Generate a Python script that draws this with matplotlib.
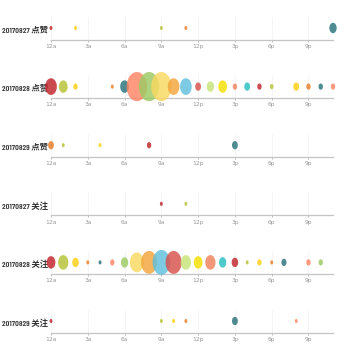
import matplotlib.pyplot as plt
import numpy as np
from matplotlib.path import Path

# one row per (day, action), points listed in source order
labels = ['20170827 点赞', '20170828 点赞', '20170829 点赞',
          '20170827 关注', '20170828 关注', '20170829 关注']

hours_0827_like = [0, 9, 2, 11, 23]
values_0827_like = [2, 2, 2, 2, 5]

hours_0828_like = [0, 1, 2, 5, 6, 7, 8, 9, 10, 11, 12, 13, 14, 15, 16, 17, 18, 20, 21, 22, 23]
values_0828_like = [8, 6, 3, 2, 6, 14, 14, 14, 8, 8, 4, 5, 6, 3, 4, 3, 2.5, 4, 3, 3, 3]

hours_0829_like = [8, 1, 4, 0, 15]
values_0829_like = [3, 2, 2, 4, 4]

hours_0827_follow = [9, 11]
values_0827_follow = [2, 2]

hours_0828_follow = [0, 1, 2, 3, 4, 5, 6, 7, 8, 9, 10, 11, 12, 13, 14, 15, 16, 17, 18, 19, 21, 22]
values_0828_follow = [6, 7, 4.5, 2, 2, 3, 5, 9.5, 11, 12, 11, 7, 6, 7, 5, 4.5, 2, 3, 2, 3.5, 3, 3]

hours_0829_follow = [0, 9, 10, 11, 15, 20]
values_0829_follow = [2, 2, 2, 2, 4, 2]

all_hours = [hours_0827_like, hours_0828_like, hours_0829_like,
             hours_0827_follow, hours_0828_follow, hours_0829_follow]
all_values = [values_0827_like, values_0828_like, values_0829_like,
              values_0827_follow, values_0828_follow, values_0829_follow]

tick_hours = [0, 3, 6, 9, 12, 15, 18, 21]
tick_labels = ['12a', '3a', '6a', '9a', '12p', '3p', '6p', '9p']

palette = ['#C1232B', '#B5C334', '#FCCE10', '#E87C25', '#27727B',
           '#FE8463', '#9BCA63', '#FAD860', '#F3A43B', '#60C0DD',
           '#D7504B', '#C6E579', '#F4E001', '#F0805A', '#26C0C0']

# slightly narrow ellipse marker
t = np.linspace(0, 2 * np.pi, 80)
ellipse = Path(np.column_stack([0.7 * np.cos(t), np.sin(t)]), closed=True)

W = H = 350.0
fig = plt.figure(figsize=(3.5, 3.5), dpi=100)
renderer = fig.canvas.get_renderer()

axis_top = 39.5
row_gap = 58.6
label_font = ['Barlow Condensed', 'Noto Sans CJK SC', 'DejaVu Sans']

for i, label in enumerate(labels):
    y_line = axis_top + i * row_gap
    ax = fig.add_axes([51 / W, (H - y_line) / H, 282 / W, 23 / H])
    hrs = all_hours[i]
    vals = np.array(all_values[i], dtype=float)
    cols = [palette[k % len(palette)] for k in range(len(hrs))]
    ax.scatter(hrs, [0.5] * len(hrs), s=(1.5 * vals) ** 2, c=cols,
               marker=ellipse, alpha=0.82, linewidths=0, clip_on=False, zorder=3)

    ax.set_xlim(0, 23)
    ax.set_ylim(0, 1)
    ax.set_yticks([])
    ax.set_xticks(tick_hours)
    ax.set_xticklabels(tick_labels)
    ax.tick_params(axis='x', length=1.6, width=0.6, color='#b0b0b0',
                   labelsize=4.3, labelcolor='#999999', pad=1.5)
    for s in ['top', 'left', 'right']:
        ax.spines[s].set_visible(False)
    ax.spines['bottom'].set_color('#c4c4c4')
    ax.spines['bottom'].set_linewidth(0.9)
    ax.grid(axis='x', color='#f2f2f2', linewidth=0.5)
    ax.set_axisbelow(True)
    ax.patch.set_alpha(0)

    txt = fig.text(2 / W, (H - y_line + 10) / H, label, ha='left', va='center',
                   fontsize=6.8, fontweight=600, color='#333333', zorder=-1,
                   family=label_font)
    # shrink the label so it ends just before the axis start
    w = txt.get_window_extent(renderer).width
    if w > 46:
        txt.set_fontsize(6.8 * 46 / w)

fig.savefig('out.png', dpi=100)
